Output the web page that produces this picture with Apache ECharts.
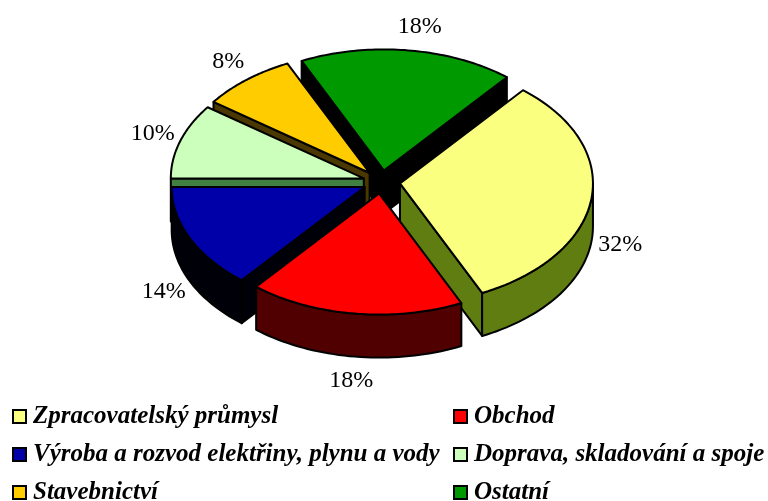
<!DOCTYPE html>
<html><head><meta charset="utf-8">
<style>html,body{margin:0;padding:0;background:#fff}#c{width:768px;height:501px}</style>
<script src="https://cdn.jsdelivr.net/npm/echarts@6/dist/echarts.min.js"></script>
</head><body><div id="c"></div>
<script>
const categories = ['Zpracovatelský průmysl','Obchod','Výroba a rozvod elektřiny, plynu a vody','Doprava, skladování a spoje','Stavebnictví','Ostatní'];
const values = [32,18,14,10,8,18];
const topColors = ['#FBFF80','#FF0000','#0000A8','#CCFFBB','#FFCC00','#009900'];
const sideColors = ['#5F7D10','#500000','#000008','#408040','#4A3800','#000000'];
const leftLegend = [categories[0],categories[2],categories[4]];
const rightLegend = [categories[1],categories[3],categories[5]];

const CX=381.5, CY=182, RX=193, RY=121, DEPTH=43, EXPLODE=18.6, START=39.6;
const total = values.reduce((a,b)=>a+b,0);
const rad = d=>d*Math.PI/180;
let acc = START;
const spans = values.map(v=>{const a=acc, b=acc+v/total*360; acc=b; return [a,b];});

function renderSlice(i){
  return function(params, api){
    const v = api.value(0);
    const [a,b] = spans[i];
    const mid=(a+b)/2;
    const ax = CX+EXPLODE*Math.sin(rad(mid));
    const ay = CY-EXPLODE*(RY/RX)*Math.cos(rad(mid));
    const pt = (t,d)=>[ax+RX*Math.sin(rad(t)), ay-RY*Math.cos(rad(t))+(d||0)];
    const ln = {stroke:'#000',lineWidth:2,lineJoin:'round'};
    const children=[];
    const poly=(points,fill)=>children.push({type:'polygon',shape:{points},style:Object.assign({fill},ln)});
    if(Math.sin(rad(a))<0) poly([[ax,ay],pt(a),pt(a,DEPTH),[ax,ay+DEPTH]],sideColors[i]);
    if(Math.sin(rad(b))>0) poly([[ax,ay],pt(b),pt(b,DEPTH),[ax,ay+DEPTH]],sideColors[i]);
    const walls=[];
    for(const k of [0,360]){
      const lo=Math.max(a,90+k), hi=Math.min(b,270+k);
      if(hi>lo) walls.push([lo,hi]);
    }
    walls.forEach(([lo,hi])=>{
      const up=[],dn=[];
      for(let t=lo;t<=hi+1e-6;t+=(hi-lo)/40){up.push(pt(t));dn.unshift(pt(t,DEPTH));}
      poly(up.concat(dn),sideColors[i]);
    });
    const top=[[ax,ay]];
    for(let t=a;t<=b+1e-6;t+=(b-a)/60) top.push(pt(t));
    poly(top,topColors[i]);
    const m=rad(mid), p=pt(mid);
    const low=Math.cos(m)<0;
    children.push({type:'text',z2:50,style:{
      text:v+'%',
      x:p[0]+29*Math.sin(m)+(i===5?8:0),
      y:p[1]-24*Math.cos(m)+(low?DEPTH:0),
      fill:'#000',align:'center',verticalAlign:'middle',
      font:'24px "Liberation Serif"'}});
    return {type:'group',children};
  };
}

const series = categories.map((name,i)=>{
  const mid=(spans[i][0]+spans[i][1])/2;
  return {type:'custom',name,coordinateSystem:'none',silent:true,
    z:Math.round(10*(1-Math.cos(rad(mid)))),
    itemStyle:{color:topColors[i],borderColor:'#000',borderWidth:1.5},
    data:[values[i]],renderItem:renderSlice(i)};
});
const legendBase={orient:'vertical',itemWidth:13,itemHeight:13,itemGap:13,padding:0,top:404,height:110,icon:'rect',selectedMode:false,
  textStyle:{fontFamily:'Liberation Serif',fontStyle:'italic',fontWeight:'bold',fontSize:25,color:'#000',padding:[0,0,0,2]}};
const chart=echarts.init(document.getElementById('c'),null,{renderer:'canvas'});
chart.setOption({animation:false,backgroundColor:'#fff',
  legend:[Object.assign({},legendBase,{left:12,data:leftLegend}),Object.assign({},legendBase,{left:453,data:rightLegend})],
  series});
</script></body></html>
